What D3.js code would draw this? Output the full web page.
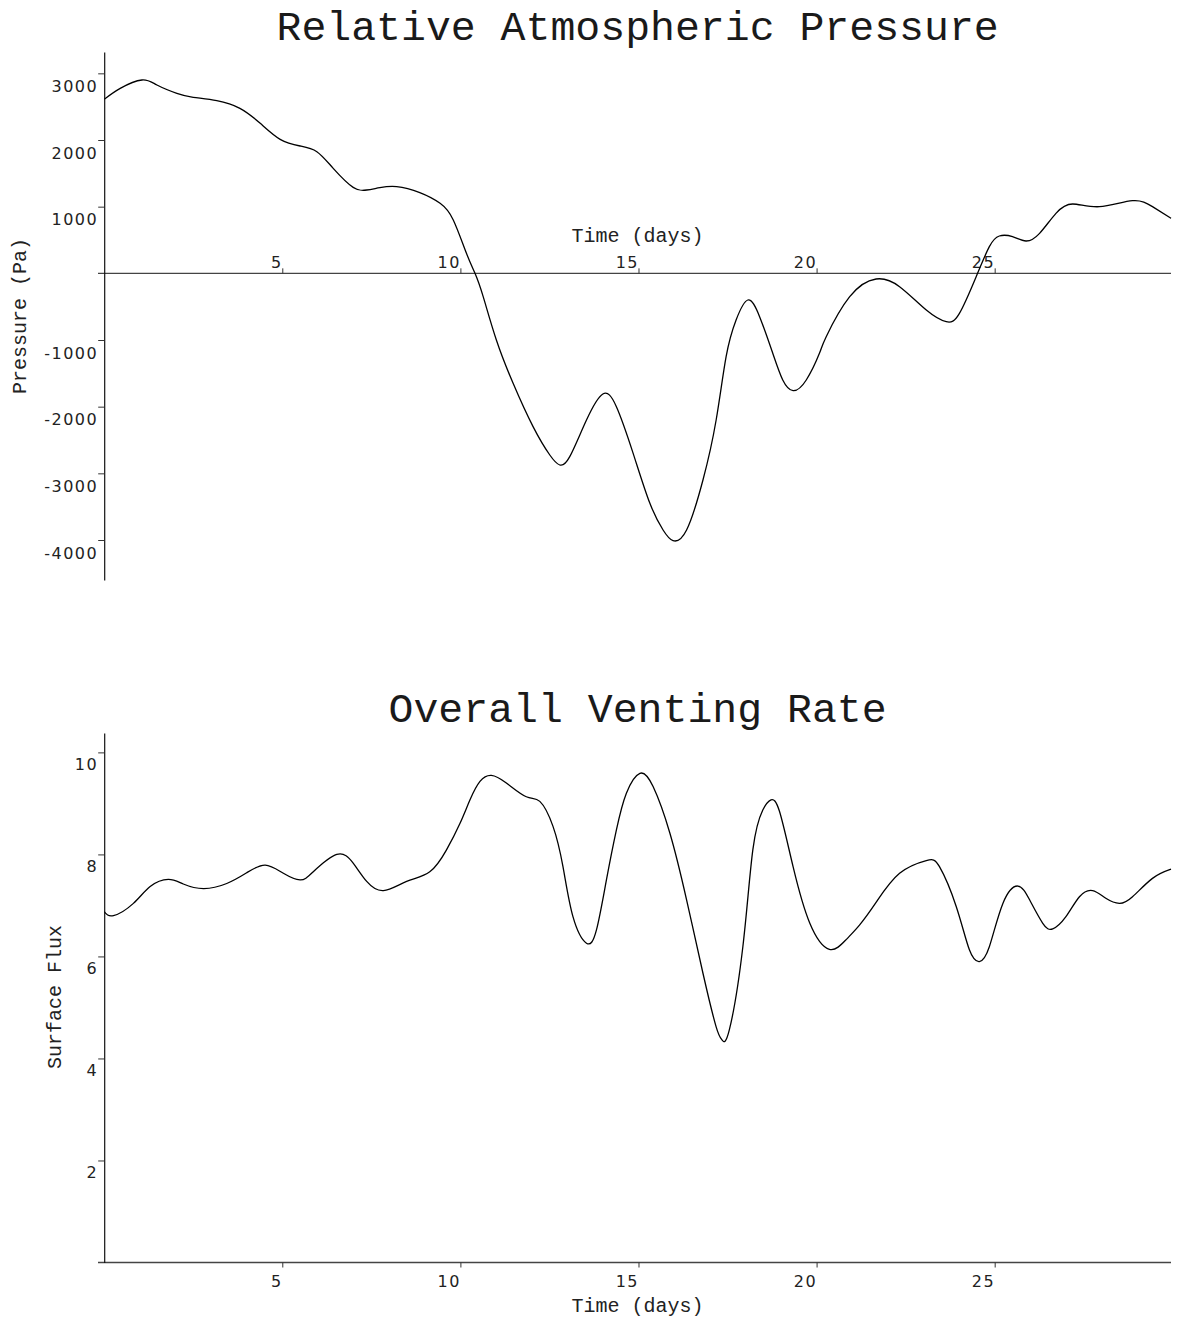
<!DOCTYPE html>
<html>
<head>
<meta charset="utf-8">
<script src="https://cdn.jsdelivr.net/npm/d3@7"></script>
<style>
  html, body { margin: 0; padding: 0; background: #fff; }
  svg { display: block; }
  .tick text { font-family: "DejaVu Sans", sans-serif; font-size: 16px; letter-spacing: 1.5px; fill: #222; }
  .title { font-family: "Liberation Mono", "Courier New", monospace; font-size: 41.5px; fill: #1a1a1a; }
  .axlabel { font-family: "Liberation Mono", "Courier New", monospace; font-size: 20px; fill: #222; }
</style>
</head>
<body>
<script>
// ---- Relative atmospheric pressure (Pa) over time (days) ----
const pressureDays = [0, 0.45, 1.06, 1.48, 2.04, 2.5, 3.16, 3.81, 4.38, 4.94, 5.5, 5.97, 6.43, 6.99, 7.37, 7.74,
  8.21, 8.86, 9.43, 9.8, 10.17, 10.41, 10.64, 11.01, 11.48, 12.04, 12.51, 12.79, 13.07, 13.54, 14.0, 14.38,
  14.85, 15.32, 15.69, 15.97, 16.35, 16.81, 17.18, 17.46, 17.74, 18.07, 18.4, 18.77, 19.05, 19.34, 19.71,
  20.08, 20.27, 20.93, 21.67, 22.33, 23.08, 23.64, 24.01, 24.48, 24.85, 25.13, 25.5, 25.88, 26.26, 26.72,
  27.19, 27.94, 28.87, 29.43, 29.95];
const pressureVals = [2610, 2775, 2900, 2825, 2700, 2640, 2590, 2475, 2250, 2010, 1910, 1825, 1575, 1290, 1250, 1285,
  1300, 1210, 1050, 800, 300, 0, -350, -1000, -1650, -2300, -2725, -2875, -2750, -2200, -1810, -2000,
  -2700, -3450, -3850, -4010, -3850, -3100, -2200, -1250, -700, -400, -650, -1200, -1600, -1760, -1600,
  -1200, -950, -350, -85, -200, -550, -725, -600, -50, 400, 560, 550, 485, 600, 900,
  1040, 1000, 1090, 1000, 825];

// ---- Overall venting rate (surface flux) over time (days) ----
const fluxDays = [0, 0.26, 0.82, 1.29, 1.8, 2.22, 2.79, 3.44, 4.0, 4.52, 5.03, 5.5, 5.87, 6.53, 6.99, 7.37,
  7.84, 8.49, 9.14, 9.61, 9.99, 10.27, 10.55, 10.87, 11.29, 11.85, 12.23, 12.6, 12.88, 13.16, 13.54, 13.82,
  14.1, 14.38, 14.66, 15.04, 15.41, 15.88, 16.35, 16.81, 17.18, 17.35, 17.55, 17.93, 18.21, 18.49, 18.72,
  18.96, 19.34, 19.81, 20.36, 20.83, 21.21, 21.67, 22.33, 23.08, 23.45, 23.92, 24.29, 24.57, 24.85, 25.23,
  25.65, 25.98, 26.35, 26.63, 27.0, 27.38, 27.75, 28.12, 28.5, 28.87, 29.43, 29.95];
const fluxVals = [6.88, 6.80, 7.04, 7.37, 7.51, 7.42, 7.33, 7.43, 7.64, 7.79, 7.63, 7.50, 7.66, 8.0, 7.83, 7.47,
  7.29, 7.47, 7.66, 8.09, 8.61, 9.07, 9.43, 9.55, 9.40, 9.13, 9.04, 8.55, 7.76, 6.78, 6.26, 6.52,
  7.5, 8.48, 9.2, 9.59, 9.33, 8.42, 7.11, 5.67, 4.62, 4.36, 4.56, 6.19, 8.09, 8.87, 9.07,
  8.84, 7.76, 6.65, 6.14, 6.33, 6.62, 7.06, 7.63, 7.88, 7.76, 6.98, 6.13, 5.90, 6.19, 7.04,
  7.38, 7.11, 6.65, 6.54, 6.78, 7.17, 7.29, 7.14, 7.04, 7.17, 7.53, 7.71];

// ---- Tick values ----
const dayTicks = [5, 10, 15, 20, 25];
const pressureTicks = [-4000, -3000, -2000, -1000, 1000, 2000, 3000];
const fluxTicks = [2, 4, 6, 8, 10];

const W = 1177, H = 1323;
const svg = d3.select("body").append("svg").attr("width", W).attr("height", H);

const xLeft = 104.2, xRight = 1171;
const x = d3.scaleLinear().domain([0, 29.95]).range([xLeft, xRight]);
const plainNumber = d => String(d);

const line = (yScale) => d3.line()
  .x(d => x(d[0]))
  .y(d => yScale(d[1]))
  .curve(d3.curveNatural);

function styleAxis(g) {
  g.selectAll(".domain").attr("stroke", "#111").attr("stroke-width", 1.2);
  g.selectAll(".tick line").attr("stroke", "#333").attr("stroke-width", 1);
}

// ================= Top panel: pressure =================
const yP = d3.scaleLinear().domain([-4600, 3320]).range([580, 52]);

svg.append("text").attr("class", "title")
  .attr("x", (xLeft + xRight) / 2).attr("y", 40).attr("text-anchor", "middle")
  .text("Relative Atmospheric Pressure");

svg.append("clipPath").attr("id", "clipTop")
  .append("rect").attr("x", xLeft).attr("y", 40).attr("width", xRight - xLeft + 2).attr("height", 560);

// horizontal axis through zero
svg.append("line")
  .attr("x1", 98).attr("x2", xRight).attr("y1", yP(0)).attr("y2", yP(0))
  .attr("stroke", "#444").attr("stroke-width", 1.3);

const gxTop = svg.append("g").attr("transform", `translate(0,${yP(0)})`)
  .call(d3.axisTop(x).tickValues(dayTicks).tickSize(5).tickSizeOuter(0).tickFormat(plainNumber));
gxTop.select(".domain").remove();
styleAxis(gxTop);
gxTop.selectAll(".tick text").attr("text-anchor", "end").attr("x", 0).attr("y", -5).attr("dy", 0);

svg.append("text").attr("class", "axlabel")
  .attr("x", (xLeft + xRight) / 2).attr("y", 242).attr("text-anchor", "middle")
  .text("Time (days)");

const gyTop = svg.append("g").attr("transform", `translate(${xLeft},0)`)
  .call(d3.axisLeft(yP).tickValues(pressureTicks).tickSize(6).tickSizeOuter(0).tickFormat(plainNumber));
styleAxis(gyTop);
gyTop.selectAll(".tick text").attr("x", -6).attr("dy", 18);

svg.append("text").attr("class", "axlabel")
  .attr("transform", `translate(26,316) rotate(-90)`).attr("text-anchor", "middle")
  .text("Pressure (Pa)");

svg.append("path")
  .datum(pressureDays.map((d, i) => [d, pressureVals[i]]))
  .attr("clip-path", "url(#clipTop)")
  .attr("fill", "none").attr("stroke", "#000").attr("stroke-width", 1.3)
  .attr("d", line(yP));

// ================= Bottom panel: venting rate =================
const yF = d3.scaleLinear().domain([0, 10.38]).range([1262.5, 733]);

svg.append("text").attr("class", "title")
  .attr("x", (xLeft + xRight) / 2).attr("y", 722).attr("text-anchor", "middle")
  .text("Overall Venting Rate");

svg.append("clipPath").attr("id", "clipBottom")
  .append("rect").attr("x", xLeft).attr("y", 725).attr("width", xRight - xLeft + 2).attr("height", 540);

svg.append("line")
  .attr("x1", 98).attr("x2", xRight).attr("y1", yF(0)).attr("y2", yF(0))
  .attr("stroke", "#444").attr("stroke-width", 1.3);

const gxBot = svg.append("g").attr("transform", `translate(0,${yF(0)})`)
  .call(d3.axisBottom(x).tickValues(dayTicks).tickSize(5).tickSizeOuter(0).tickFormat(plainNumber));
gxBot.select(".domain").remove();
styleAxis(gxBot);
gxBot.selectAll(".tick text").attr("text-anchor", "end").attr("x", 0).attr("y", 24).attr("dy", 0);

svg.append("text").attr("class", "axlabel")
  .attr("x", (xLeft + xRight) / 2).attr("y", 1312).attr("text-anchor", "middle")
  .text("Time (days)");

const gyBot = svg.append("g").attr("transform", `translate(${xLeft},0)`)
  .call(d3.axisLeft(yF).tickValues(fluxTicks).tickSize(6).tickSizeOuter(0).tickFormat(plainNumber));
styleAxis(gyBot);
gyBot.selectAll(".tick text").attr("x", -6).attr("dy", 17);

svg.append("text").attr("class", "axlabel")
  .attr("transform", `translate(61,997) rotate(-90)`).attr("text-anchor", "middle")
  .text("Surface Flux");

svg.append("path")
  .datum(fluxDays.map((d, i) => [d, fluxVals[i]]))
  .attr("clip-path", "url(#clipBottom)")
  .attr("fill", "none").attr("stroke", "#000").attr("stroke-width", 1.3)
  .attr("d", line(yF));
</script>
</body>
</html>
